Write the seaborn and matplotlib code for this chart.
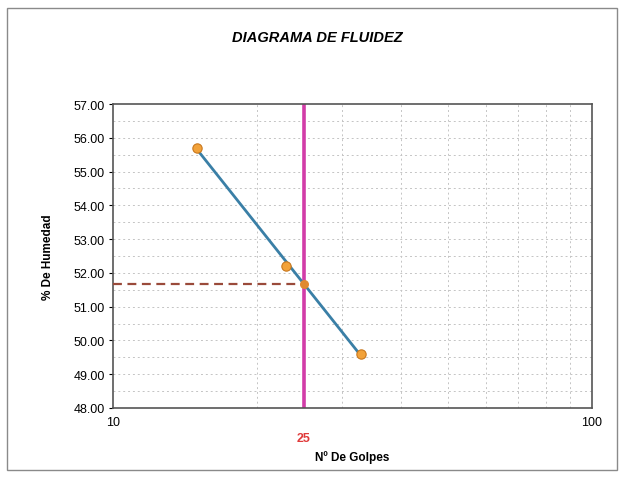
import numpy as np
import pandas as pd
import matplotlib
matplotlib.use("Agg")
import matplotlib.pyplot as plt
from matplotlib.patches import Rectangle
from matplotlib.ticker import FixedLocator
import seaborn as sns

# Ensayo de límite líquido (Casagrande)
golpes = [15, 23, 33]
humedad = [55.70, 52.20, 49.60]
golpes_ref = 25
y_ticks = [48, 49, 50, 51, 52, 53, 54, 55, 56, 57]
x_major = [10, 100]

sns.set_style("white")
plt.rcParams["font.family"] = ["Liberation Sans", "DejaVu Sans"]
plt.rcParams["text.color"] = "black"
plt.rcParams["axes.labelcolor"] = "black"
plt.rcParams["xtick.color"] = "black"
plt.rcParams["ytick.color"] = "black"

df = pd.DataFrame({"golpes": golpes, "humedad": humedad})

# Ajuste lineal de la humedad contra log10(golpes)
pend, orig = np.polyfit(np.log10(df["golpes"]), df["humedad"], 1)
fit = pd.DataFrame({"golpes": [min(golpes), max(golpes)]})
fit["humedad"] = orig + pend * np.log10(fit["golpes"])
ll = orig + pend * np.log10(golpes_ref)

fig = plt.figure(figsize=(6.19, 4.81), dpi=100)
ax = fig.add_axes([0.1826, 0.1497, 0.7738, 0.632])

ax.set_xscale("log")
ax.set_xlim(10, 100)
ax.set_ylim(48, 57)

# Rejilla punteada
for v in [10 * k for k in range(2, 10)]:
    ax.axvline(v, color="#c4c4c4", lw=0.7, ls=(0, (2, 3)), zorder=0)
for v in np.arange(48.5, 57, 0.5):
    ax.axhline(v, color="#c4c4c4", lw=0.7, ls=(0, (2, 3)), zorder=0)

ax.axvline(golpes_ref, color="#d23ca8", lw=2.6, zorder=2)
ax.plot([10, golpes_ref], [ll, ll], color="#9a4a3a", lw=1.6,
        ls=(0, (4, 2.5)), zorder=3)

sns.lineplot(data=fit, x="golpes", y="humedad", ax=ax, color="#3a7fa6",
             lw=2.0, zorder=4)
sns.scatterplot(data=df, x="golpes", y="humedad", ax=ax, s=45,
                color="#f2a23a", edgecolor="#c9781e", linewidth=0.8,
                zorder=5)
ax.scatter([golpes_ref], [ll], s=30, color="#e08a30", zorder=5)

ax.xaxis.set_major_locator(FixedLocator(x_major))
ax.xaxis.set_minor_locator(FixedLocator([]))
ax.set_xticklabels([str(v) for v in x_major], fontsize=9)
ax.set_yticks(y_ticks)
ax.set_yticklabels([f"{v:.2f}" for v in y_ticks], fontsize=9)
ax.tick_params(axis="y", length=3, width=0.8, direction="out", pad=3, left=True)
ax.tick_params(axis="x", length=0, pad=6)

ax.text(golpes_ref, -0.08, str(golpes_ref), transform=ax.get_xaxis_transform(),
        ha="center", va="top", color="#e03a3a", fontsize=9, fontweight="bold")

ax.set_xlabel("Nº De Golpes", fontsize=8.5, fontweight="bold", labelpad=16)
ax.set_ylabel("% De Humedad", fontsize=8.5, fontweight="bold", labelpad=14)

for s in ax.spines.values():
    s.set_color("#555555")
    s.set_linewidth(1.2)
    s.set_visible(True)

fig.text(0.512, 0.922, "DIAGRAMA DE FLUIDEZ", ha="center", va="center",
         fontsize=10.5, fontweight="bold", fontstyle="italic")

fig.patches.append(Rectangle((7 / 619, 1 - 471 / 481), 610 / 619, 462 / 481,
                             transform=fig.transFigure, fill=False,
                             edgecolor="#8a8a8a", lw=1.0))

fig.savefig("out.png", dpi=100)
